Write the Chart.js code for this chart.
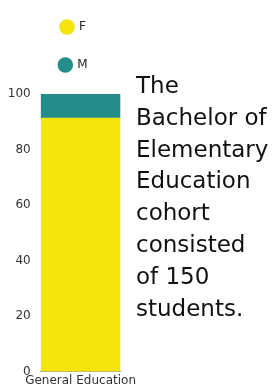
<!DOCTYPE html>
<html>
<head>
<meta charset="utf-8">
<script src="https://cdn.jsdelivr.net/npm/chart.js@4"></script>
<style>
  html, body { margin: 0; padding: 0; background: #fff; overflow: hidden; }
  #wrap { position: absolute; left: 0; top: 0; width: 145px; height: 390px; }
  #blurb {
    position: absolute; left: 136px; top: 70px; width: 141px;
    font-family: "DejaVu Sans", sans-serif; font-size: 23px; line-height: 31.8px;
    color: #111; white-space: nowrap;
  }
</style>
</head>
<body>
<div id="wrap"><canvas id="cohort"></canvas></div>
<div id="blurb">The<br>Bachelor of<br>Elementary<br>Education<br>cohort<br>consisted<br>of 150<br>students.</div>
<script>
// cohort split, percent of 150 students
var programs = ['General Education'];
var female = [91.3];
var male = [8.7];
var yTicks = [0, 20, 40, 60, 80, 100];

Chart.defaults.font.family = '"DejaVu Sans", sans-serif';
Chart.defaults.color = '#333';

var ctx = document.getElementById('cohort').getContext('2d');
var cohortChart = new Chart(ctx, {
  type: 'bar',
  data: {
    labels: programs,
    datasets: [
      { label: 'F', data: female, backgroundColor: '#F5E40B' },
      { label: 'M', data: male, backgroundColor: '#238E89' }
    ]
  },
  options: {
    responsive: true,
    maintainAspectRatio: false,
    animation: false,
    layout: { padding: { top: -5, right: 6, left: 8, bottom: 0 } },
    datasets: { bar: { categoryPercentage: 1, barPercentage: 1 } },
    scales: {
      x: {
        stacked: true,
        grid: { display: false, drawTicks: false },
        border: { display: true, color: '#999' },
        ticks: { padding: 2, font: { size: 12 } }
      },
      y: {
        stacked: true,
        min: 0,
        max: yTicks[yTicks.length - 1],
        grid: { display: false, drawTicks: false },
        border: { display: false },
        afterBuildTicks: function (axis) {
          axis.ticks = yTicks.map(function (v) { return { value: v }; });
        },
        ticks: { padding: 10, font: { size: 12 } }
      },
      // empty axis, only keeps the plot narrower than the legend row
      spacer: {
        type: 'linear',
        position: 'right',
        grid: { display: false, drawTicks: false },
        border: { display: false },
        ticks: { display: false },
        afterFit: function (axis) { axis.width = 8; }
      }
    },
    plugins: {
      title: { display: true, text: '', weight: 500, padding: 0, font: { size: 13, lineHeight: 1 } },
      legend: {
        position: 'top',
        labels: { usePointStyle: true, pointStyle: 'circle', boxHeight: 11, padding: 26, font: { size: 12 }, color: '#222' }
      },
      tooltip: { enabled: false }
    }
  }
});
</script>
</body>
</html>
